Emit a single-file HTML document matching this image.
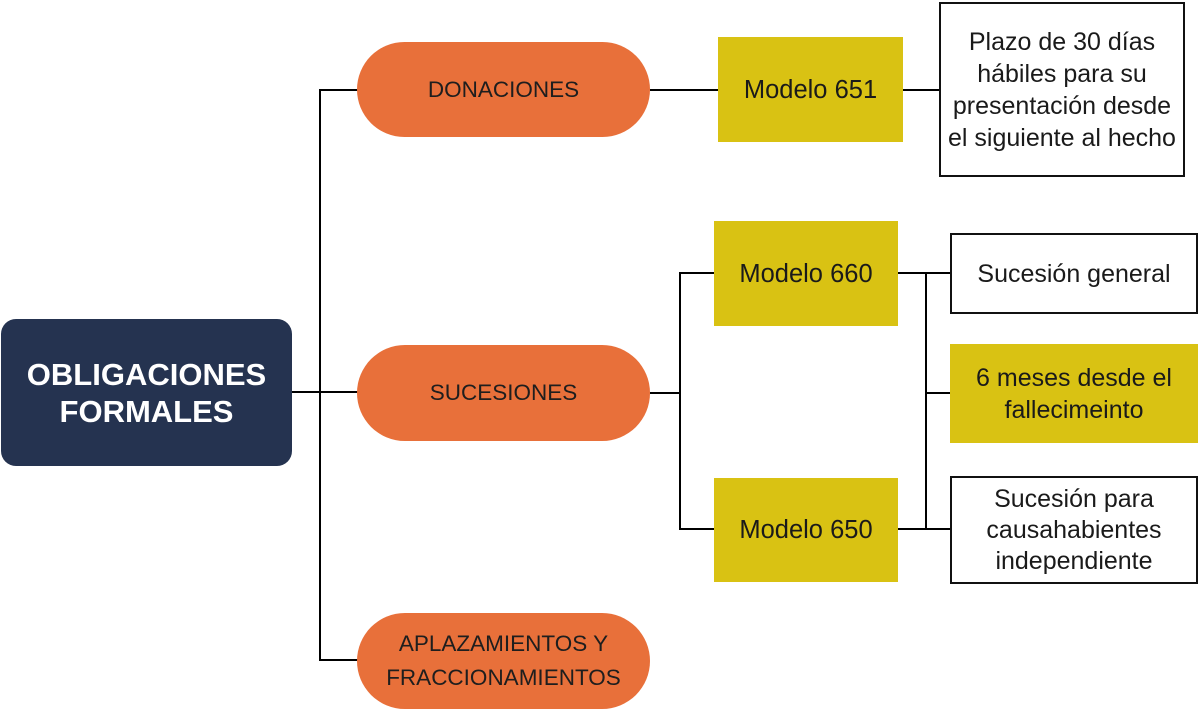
<!DOCTYPE html>
<html>
<head>
<meta charset="utf-8">
<style>
  html, body { margin:0; padding:0; }
  body { width:1200px; height:710px; background:#ffffff; position:relative; overflow:hidden;
         font-family:"Liberation Sans", Arial, sans-serif; }
  .box { position:absolute; box-sizing:border-box; display:flex; align-items:center; justify-content:center;
         text-align:center; color:#1a1a1a; }
  .navy { background:#253350; color:#ffffff; border-radius:15px; font-weight:bold; font-size:31px; line-height:37px; }
  .pill { background:#E8703A; border-radius:48px; font-size:22.5px; line-height:34px; color:#1e1e1e; }
  .yel { background:#D9C213; font-size:25.5px; line-height:32px; }
  .wht { background:#ffffff; border:2px solid #111; font-size:25px; line-height:32px; }
  .ln { position:absolute; background:#000; }
</style>
</head>
<body>
  <!-- connectors -->
  <div class="ln" style="left:292px; top:391px; width:66px; height:2px;"></div>
  <div class="ln" style="left:319px; top:89px; width:2px; height:572px;"></div>
  <div class="ln" style="left:319px; top:89px; width:39px; height:2px;"></div>
  <div class="ln" style="left:319px; top:659px; width:39px; height:2px;"></div>

  <div class="ln" style="left:650px; top:89px; width:68px; height:2px;"></div>
  <div class="ln" style="left:903px; top:89px; width:37px; height:2px;"></div>

  <div class="ln" style="left:650px; top:392px; width:31px; height:2px;"></div>
  <div class="ln" style="left:679px; top:272px; width:2px; height:258px;"></div>
  <div class="ln" style="left:679px; top:272px; width:35px; height:2px;"></div>
  <div class="ln" style="left:679px; top:528px; width:35px; height:2px;"></div>

  <div class="ln" style="left:898px; top:272px; width:53px; height:2px;"></div>
  <div class="ln" style="left:898px; top:528px; width:53px; height:2px;"></div>
  <div class="ln" style="left:925px; top:272px; width:2px; height:258px;"></div>
  <div class="ln" style="left:925px; top:392px; width:26px; height:2px;"></div>

  <!-- root -->
  <div class="box navy" style="left:1px; top:319px; width:291px; height:147px;">OBLIGACIONES<br>FORMALES</div>

  <!-- pills -->
  <div class="box pill" style="left:357px; top:42px; width:293px; height:95px;">DONACIONES</div>
  <div class="box pill" style="left:357px; top:345px; width:293px; height:96px;">SUCESIONES</div>
  <div class="box pill" style="left:357px; top:613px; width:293px; height:96px;">APLAZAMIENTOS Y<br>FRACCIONAMIENTOS</div>

  <!-- yellow models -->
  <div class="box yel" style="left:718px; top:37px; width:185px; height:105px;">Modelo 651</div>
  <div class="box yel" style="left:714px; top:221px; width:184px; height:105px;">Modelo 660</div>
  <div class="box yel" style="left:714px; top:478px; width:184px; height:104px;">Modelo 650</div>

  <!-- right column -->
  <div class="box wht" style="left:939px; top:2px; width:246px; height:175px;">Plazo de 30 días<br>hábiles para su<br>presentación desde<br>el siguiente al hecho</div>
  <div class="box wht" style="left:950px; top:233px; width:248px; height:81px;">Sucesión general</div>
  <div class="box yel" style="left:950px; top:344px; width:248px; height:99px; font-size:25px;">6 meses desde el<br>fallecimeinto</div>
  <div class="box wht" style="left:950px; top:476px; width:248px; height:108px; line-height:31px;">Sucesión para<br>causahabientes<br>independiente</div>
</body>
</html>
